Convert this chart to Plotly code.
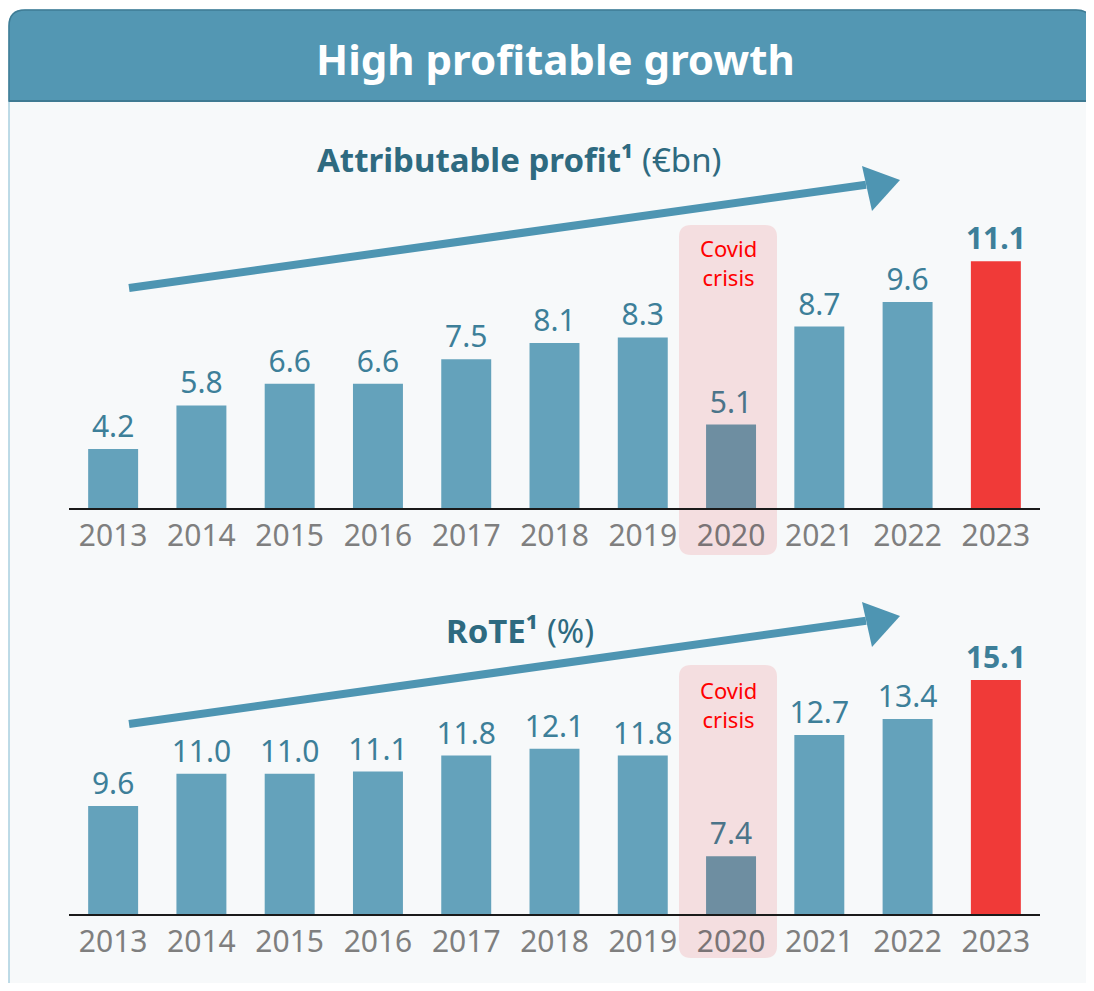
import plotly.graph_objects as go

OFF = 8                      # browser body margin
W, H = 1094 - 2 * OFF, 991 - 2 * OFF

years = ["2013", "2014", "2015", "2016", "2017", "2018", "2019", "2020", "2021", "2022", "2023"]
profit = [4.2, 5.8, 6.6, 6.6, 7.5, 8.1, 8.3, 5.1, 8.7, 9.6, 11.1]
rote = [9.6, 11.0, 11.0, 11.1, 11.8, 12.1, 11.8, 7.4, 12.7, 13.4, 15.1]
covid_year = "2020"
highlight_year = "2023"

BAR = "#64A2BB"
BAR_COVID = "#6E8EA1"
BAR_HI = "#F03A38"
LBL = "#3D7F99"
LBL_COVID = "#4B7489"
TEAL = "#5397B3"
DARK = "#2E6A80"
ARROW = "#4E95B2"
FONT = "Noto Sans"


def px(x):
    return (x - OFF) / W


def py(y):
    return 1 - (y - OFF) / H


def colors_for(vals):
    out = []
    for y in years:
        if y == covid_year:
            out.append(BAR_COVID)
        elif y == highlight_year:
            out.append(BAR_HI)
        else:
            out.append(BAR)
    return out


def labels_for(vals):
    t, c = [], []
    for y, v in zip(years, vals):
        s = f"{v:.1f}"
        if y == highlight_year:
            s = f"<b>{s}</b>"
        t.append(s)
        c.append(LBL_COVID if y == covid_year else LBL)
    return t, c


fig = go.Figure()

for vals, xa, ya in [(profit, "x", "y"), (rote, "x2", "y2")]:
    t, c = labels_for(vals)
    fig.add_trace(go.Bar(
        x=years, y=vals, xaxis=xa, yaxis=ya,
        marker=dict(color=colors_for(vals), line=dict(width=0)),
        width=0.566,
        text=t, textposition="outside", constraintext="none",
        textfont=dict(color=c, size=30, family=FONT),
        cliponaxis=False, hoverinfo="skip", showlegend=False,
    ))

ticktext = [f"<span style='color:#7A7476'>{y}</span>" if y == covid_year else y for y in years]

top_base, top_top = 508, 200
bot_base, bot_top = 914, 620
x_l, x_r = 69, 1040
ax_common = dict(
    type="category", range=[-0.5, 10.5], showgrid=False, zeroline=False,
    showline=True, linecolor="#1a1a1a", linewidth=2, ticks="",
    tickmode="array", tickvals=years, ticktext=ticktext,
    tickfont=dict(size=30, color="#7F7F7F", family=FONT),
    ticklabelstandoff=0, fixedrange=True,
)
fig.update_layout(
    xaxis=dict(domain=[px(x_l), px(x_r)], anchor="y", **ax_common),
    yaxis=dict(domain=[py(top_base), py(top_top)], anchor="x",
               range=[2.03, 2.03 + (top_base - top_top) / 27.2],
               visible=False, fixedrange=True),
    xaxis2=dict(domain=[px(x_l), px(x_r)], anchor="y2", **ax_common),
    yaxis2=dict(domain=[py(bot_base), py(bot_top)], anchor="x2",
                range=[4.88, 4.88 + (bot_base - bot_top) / 22.9],
                visible=False, fixedrange=True),
)


def rrect(x0, y0, x1, y1, r, tl=True, tr=True, bl=True, br=True):
    def P(x, y):
        return f"{px(x):.5f},{py(y):.5f}"
    d = ["M " + P(x0 + (r if tl else 0), y0), "L " + P(x1 - (r if tr else 0), y0)]
    if tr:
        d.append("Q " + P(x1, y0) + " " + P(x1, y0 + r))
    d.append("L " + P(x1, y1 - (r if br else 0)))
    if br:
        d.append("Q " + P(x1, y1) + " " + P(x1 - r, y1))
    d.append("L " + P(x0 + (r if bl else 0), y1))
    if bl:
        d.append("Q " + P(x0, y1) + " " + P(x0, y1 - r))
    d.append("L " + P(x0, y0 + (r if tl else 0)))
    if tl:
        d.append("Q " + P(x0, y0) + " " + P(x0 + r, y0))
    d.append("Z")
    return " ".join(d)


shapes = []
# panel body
shapes.append(dict(type="path", xref="paper", yref="paper",
                   path=rrect(9, 10, 1092, 1000, 16, bl=False, br=False),
                   fillcolor="#F7F9FA", line=dict(color="#A9CFE0", width=1.5), layer="below"))
# header
shapes.append(dict(type="path", xref="paper", yref="paper",
                   path=rrect(9, 10, 1092, 101, 16, bl=False, br=False),
                   fillcolor=TEAL, line=dict(color="#3F7C95", width=1.5), layer="below"))
shapes.append(dict(type="line", xref="paper", yref="paper",
                   x0=px(9), x1=px(1092), y0=py(101), y1=py(101),
                   line=dict(color="#3F7A92", width=2), layer="below"))
# covid boxes
for (y0, y1) in [(225, 555), (665, 958)]:
    shapes.append(dict(type="path", xref="paper", yref="paper",
                       path=rrect(679, y0, 777, y1, 12),
                       fillcolor="#F4DEE0", line=dict(width=0), layer="below"))
# arrows
for (sy, ty) in [(288, 180), (724, 616)]:
    slope = (ty - sy) / (900 - 129)
    ex = 866
    ey = sy + slope * (ex - 129)
    shapes.append(dict(type="line", xref="paper", yref="paper",
                       x0=px(129), y0=py(sy), x1=px(ex), y1=py(ey),
                       line=dict(color=ARROW, width=8)))
    off = ty - 180
    tri = (f"M {px(900):.5f},{py(180 + off):.5f} L {px(862):.5f},{py(166 + off):.5f} "
           f"L {px(872):.5f},{py(211 + off):.5f} Z")
    shapes.append(dict(type="path", xref="paper", yref="paper", path=tri,
                       fillcolor=ARROW, line=dict(width=0)))

annotations = [
    dict(text="<b>High profitable growth</b>", x=px(555), y=py(58),
         font=dict(size=42, color="white", family=FONT)),
    dict(text="<b>Attributable profit¹</b> (€bn)", x=px(519), y=py(160),
         font=dict(size=33, color=DARK, family=FONT)),
    dict(text="<b>RoTE¹</b> (%)", x=px(520), y=py(630),
         font=dict(size=33, color=DARK, family=FONT)),
    dict(text="Covid<br>crisis", x=px(728), y=py(263),
         font=dict(size=22, color="#FF0000", family=FONT)),
    dict(text="Covid<br>crisis", x=px(728), y=py(704),
         font=dict(size=22, color="#FF0000", family=FONT)),
]
for a in annotations:
    a.update(xref="paper", yref="paper", showarrow=False, xanchor="center", yanchor="middle")

fig.update_layout(
    width=W, height=H, margin=dict(l=0, r=0, t=0, b=0),
    paper_bgcolor="white", plot_bgcolor="rgba(0,0,0,0)",
    shapes=shapes, annotations=annotations,
    font=dict(family=FONT),
)

fig.write_html("out.html", config={"displayModeBar": False})
